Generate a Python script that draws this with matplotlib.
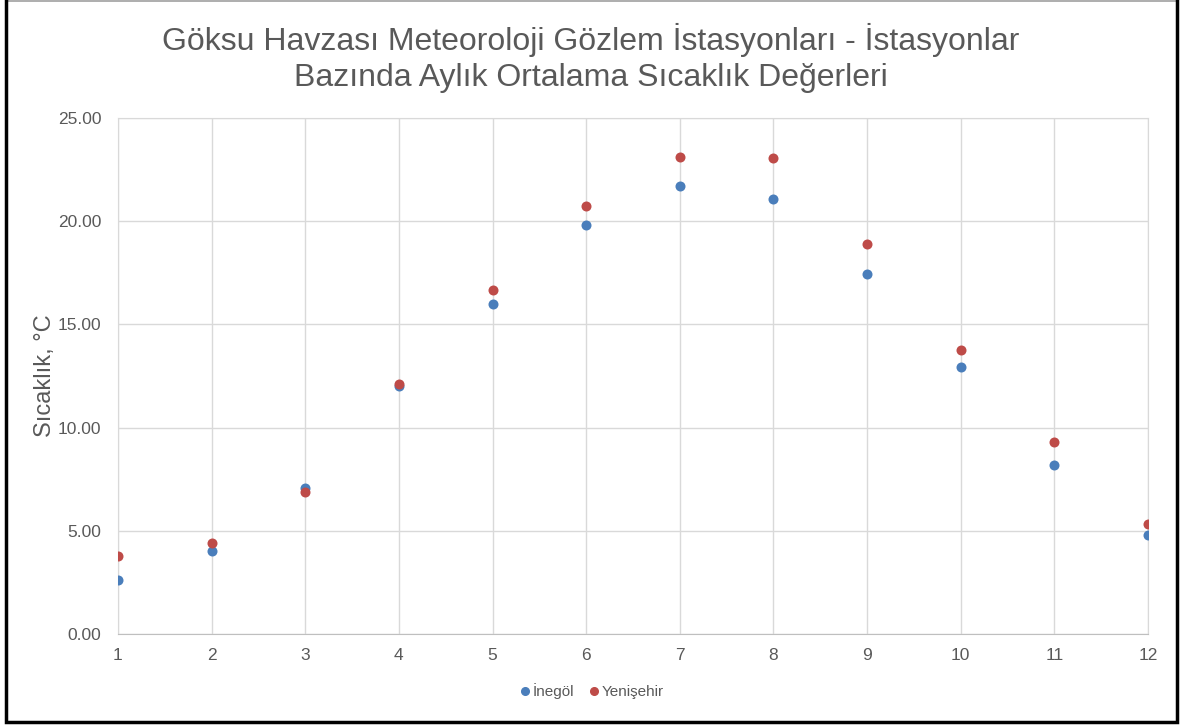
import matplotlib
matplotlib.use("Agg")
import matplotlib.pyplot as plt
from matplotlib.lines import Line2D

plt.rcParams['font.family'] = ['Liberation Sans', 'DejaVu Sans']

months = [1, 2, 3, 4, 5, 6, 7, 8, 9, 10, 11, 12]
inegol = [2.64, 4.03, 7.08, 12.01, 15.97, 19.81, 21.72, 21.08, 17.43, 12.95, 8.18, 4.81]
yenisehir = [3.77, 4.41, 6.86, 12.12, 16.67, 20.73, 23.11, 23.04, 18.91, 13.78, 9.31, 5.31]
series_names = ["İnegöl", "Yenişehir"]
colors = ["#4A7EBB", "#BE4B48"]
yticks = [0, 5, 10, 15, 20, 25]

title = "Göksu Havzası Meteoroloji Gözlem İstasyonları - İstasyonlar\nBazında Aylık Ortalama Sıcaklık Değerleri"
ylabel = "Sıcaklık, °C"

W, H = 1182, 725
fig = plt.figure(figsize=(W/100, H/100), dpi=100)
ax = fig.add_axes([118/W, 1-634/H, (1148-118)/W, (634-118)/H])

for vals, name, c in zip([inegol, yenisehir], series_names, colors):
    ax.scatter(months, vals, s=52, color=c, label=name, zorder=3, linewidths=0)

ax.set_xlim(1, 12)
ax.set_ylim(0, 25)
ax.set_xticks(months)
ax.set_yticks(yticks)
ax.set_yticklabels([f"{v:.2f}" for v in yticks])
ax.grid(True, color="#D9D9D9", linewidth=1)
ax.set_axisbelow(True)
for side in ["top", "right", "left"]:
    ax.spines[side].set_color("#D9D9D9")
ax.spines["bottom"].set_color("#BFBFBF")
ax.tick_params(axis="both", length=0, colors="#595959", labelsize=12.5)
ax.tick_params(axis="x", pad=10)
ax.tick_params(axis="y", pad=12)

ax.set_ylabel(ylabel, fontsize=17, color="#595959", va="center")
ax.yaxis.set_label_coords((45-118)/(1148-118), 0.5)

fig.text(0.5, 1-58/H, title, ha="center", va="center", fontsize=23,
         color="#595959", linespacing=1.28)

handles = [Line2D([], [], marker="o", linestyle="", color=c, markersize=5.5) for c in colors]
fig.legend(handles, series_names, loc="center", bbox_to_anchor=(0.5, 1-691/H),
           ncol=2, frameon=False, fontsize=11, handletextpad=0.0,
           columnspacing=0.8, labelcolor="#595959", handlelength=1.0)

# outer border: black on left, right and bottom, thin grey on top
fig.lines.append(Line2D([6/W, 1177/W], [1-1/H, 1-1/H], transform=fig.transFigure,
                        color="#A0A0A0", linewidth=1.2))
fig.lines.append(Line2D([6/W, 6/W, 1177/W, 1177/W], [1-1/H, 1-722/H, 1-722/H, 1-1/H],
                        transform=fig.transFigure, color="black", linewidth=2.5,
                        solid_joinstyle="miter"))

fig.savefig("out.png", dpi=100)
